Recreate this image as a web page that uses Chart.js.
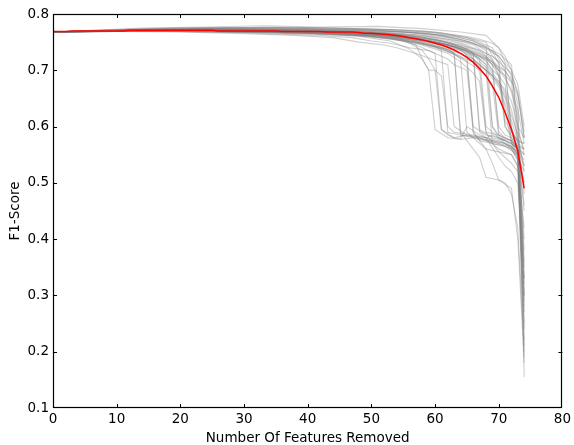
<!DOCTYPE html>
<html lang="en">
<head>
  <meta charset="UTF-8" />
  <title>F1-Score vs Features Removed</title>
  <script src="https://cdn.jsdelivr.net/npm/chart.js"></script>
  <style>
    body { margin: 0; background: #fff; }
    canvas { display: block; }
  </style>
</head>
<body>
  <canvas id="chart" width="574" height="445"></canvas>

  <script>
    // x ticks / y ticks
    const xTicks = [0, 10, 20, 30, 40, 50, 60, 70, 80];
    const yTicks = [0.1, 0.2, 0.3, 0.4, 0.5, 0.6, 0.7, 0.8];

    // mean F1 (red line), one value per number of features removed 0..74
    const featuresRemoved = [];
    for (let i = 0; i <= 74; i++) featuresRemoved.push(i);
    const meanF1 = [
      .769, .769, .769, .770, .770, .770, .770, .770, .770, .770,
      .770, .770, .771, .771, .771, .771, .771, .771, .771, .771,
      .771, .771, .771, .771, .771, .771, .770, .770, .770, .770,
      .770, .770, .770, .770, .770, .770, .769, .769, .769, .769,
      .769, .769, .769, .768, .768, .768, .768, .768, .767, .766,
      .766, .765, .764, .763, .762, .760, .758, .756, .754, .751,
      .748, .745, .741, .736, .730, .723, .714, .703, .690, .672,
      .652, .625, .595, .556, .490
    ];

    // individual runs (grey lines), [features removed, F1]
    const runA = [[0,.768],[6,.771],[14,.775],[24,.777],[33,.779],[42,.777],[51,.778],[58,.774],[64,.768],[68,.762],[70,.74],[71,.715],[72,.70],[73,.675],[74,.60]];
    const runB = [[0,.768],[8,.770],[17,.773],[27,.775],[36,.776],[46,.774],[54,.772],[60,.768],[65,.758],[68,.75],[69,.725],[71,.705],[72,.695],[73,.66],[74,.58]];
    const runC = [[0,.768],[7,.769],[16,.772],[26,.773],[37,.772],[47,.771],[55,.768],[61,.762],[65,.752],[67,.745],[69,.735],[70,.71],[72,.685],[73,.64],[74,.33]];
    const runD = [[0,.768],[9,.771],[19,.774],[29,.772],[39,.774],[49,.772],[56,.767],[62,.758],[66,.745],[68,.73],[70,.705],[71,.69],[72,.66],[73,.62],[74,.29]];
    const runE = [[0,.768],[5,.770],[15,.771],[25,.774],[35,.773],[45,.771],[53,.769],[59,.765],[63,.757],[66,.748],[68,.735],[69,.72],[70,.69],[72,.57],[73,.56],[74,.55]];
    const runF = [[0,.768],[10,.770],[20,.771],[31,.769],[42,.768],[50,.764],[56,.756],[60,.748],[63,.736],[65,.724],[67,.71],[69,.69],[70,.675],[71,.65],[72,.61],[73,.575],[74,.53]];
    const runG = [[0,.768],[12,.771],[22,.772],[32,.770],[43,.766],[51,.761],[56,.752],[60,.742],[63,.728],[66,.715],[68,.70],[70,.67],[71,.64],[72,.60],[73,.56],[74,.50]];
    const runH = [[0,.768],[8,.769],[18,.770],[28,.768],[38,.766],[48,.762],[54,.756],[58,.748],[61,.74],[64,.73],[66,.72],[67,.70],[68,.59],[70,.585],[72,.575],[73,.56],[74,.46]];
    const runI = [[0,.768],[11,.770],[21,.772],[33,.771],[44,.769],[52,.766],[57,.760],[61,.752],[64,.742],[66,.73],[68,.718],[69,.70],[70,.60],[71,.585],[72,.58],[73,.565],[74,.56]];
    const runJ = [[0,.768],[9,.770],[19,.769],[30,.767],[41,.764],[49,.760],[55,.753],[59,.745],[62,.735],[64,.725],[65,.715],[66,.60],[68,.585],[70,.58],[72,.575],[73,.56],[74,.35]];
    const runK = [[0,.768],[10,.770],[20,.770],[30,.768],[40,.766],[47,.762],[53,.752],[56,.738],[58,.72],[59,.70],[60,.595],[62,.58],[64,.577],[66,.58],[69,.575],[71,.57],[73,.555],[74,.25]];
    const runL = [[0,.768],[13,.771],[23,.773],[34,.771],[44,.768],[51,.763],[56,.754],[60,.742],[61,.735],[62,.59],[64,.585],[67,.58],[70,.57],[72,.565],[73,.55],[74,.22]];
    const runM = [[0,.768],[7,.770],[17,.772],[27,.771],[37,.770],[46,.767],[53,.761],[58,.75],[62,.738],[63,.73],[64,.585],[66,.58],[68,.56],[70,.555],[72,.55],[73,.53],[74,.19]];
    const runN = [[0,.768],[10,.771],[20,.773],[30,.774],[40,.772],[50,.768],[56,.762],[60,.755],[63,.745],[65,.738],[66,.73],[67,.595],[69,.58],[71,.575],[72,.57],[73,.555],[74,.40]];
    const runO = [[0,.768],[8,.769],[18,.771],[28,.770],[38,.768],[47,.765],[54,.76],[59,.752],[63,.742],[66,.73],[68,.72],[69,.71],[70,.59],[71,.58],[72,.575],[73,.56],[74,.155]];
    const runP = [[0,.768],[12,.770],[24,.772],[36,.772],[46,.769],[53,.765],[58,.758],[62,.75],[65,.74],[67,.73],[69,.715],[70,.705],[71,.70],[72,.595],[73,.57],[74,.30]];
    const runQ = [[0,.768],[9,.770],[21,.771],[32,.770],[42,.767],[50,.763],[55,.757],[59,.75],[62,.742],[64,.735],[65,.728],[66,.59],[67,.575],[68,.56],[69,.535],[70,.505],[71,.50],[72,.48],[73,.42],[74,.20]];
    const runR = [[0,.768],[14,.771],[26,.771],[38,.769],[48,.764],[54,.757],[58,.748],[61,.74],[63,.73],[64,.59],[65,.575],[66,.56],[67,.545],[68,.51],[70,.505],[72,.49],[73,.40],[74,.18]];
    const runS = [[0,.768],[11,.770],[22,.770],[33,.768],[43,.765],[50,.76],[55,.752],[57,.745],[58,.74],[59,.735],[60,.73],[61,.595],[63,.58],[65,.585],[67,.58],[69,.57],[71,.565],[72,.56],[73,.545],[74,.52]];
    const runT = [[0,.768],[6,.769],[16,.771],[26,.772],[36,.771],[45,.768],[52,.764],[57,.757],[61,.748],[64,.738],[66,.728],[67,.72],[68,.60],[69,.59],[70,.58],[72,.57],[73,.56],[74,.54]];
    const runU = [[0,.768],[10,.770],[20,.771],[31,.771],[41,.769],[50,.766],[56,.76],[60,.754],[64,.745],[67,.735],[69,.725],[70,.715],[71,.60],[72,.585],[73,.565],[74,.55]];
    const runV = [[0,.768],[12,.771],[22,.773],[32,.772],[42,.771],[51,.768],[57,.763],[61,.757],[65,.75],[68,.74],[70,.73],[71,.72],[72,.71],[73,.59],[74,.56]];
    const runW = [[0,.768],[10,.769],[20,.768],[30,.765],[38,.762],[44,.758],[48,.75],[52,.745],[54,.74],[57,.73],[60,.718],[62,.71],[63,.60],[65,.585],[68,.58],[70,.575],[72,.565],[73,.55],[74,.28]];
    const runX = [[0,.768],[8,.769],[18,.769],[28,.767],[36,.764],[42,.762],[47,.758],[50,.752],[53,.748],[56,.74],[59,.735],[61,.725],[62,.72],[63,.71],[65,.70],[66,.59],[67,.575],[69,.57],[71,.565],[73,.55],[74,.50]];
    const runY = [[0,.768],[10,.770],[20,.771],[30,.769],[40,.767],[48,.763],[53,.757],[56,.748],[58,.735],[59,.72],[60,.70],[61,.595],[62,.585],[63,.58],[64,.578],[65,.60],[67,.585],[69,.575],[71,.57],[73,.555],[74,.45]];
    const runZ = [[0,.768],[9,.770],[19,.772],[29,.770],[39,.768],[47,.765],[52,.76],[55,.754],[57,.745],[58,.72],[59,.70],[60,.70],[61,.69],[62,.60],[63,.59],[66,.585],[68,.58],[70,.545],[71,.53],[72,.52],[73,.50],[74,.33]];
    const runAA = [[0,.768],[7,.771],[15,.774],[23,.776],[31,.775],[40,.776],[48,.774],[55,.771],[61,.766],[65,.758],[67,.75],[69,.74],[70,.72],[71,.70],[72,.68],[73,.655],[74,.58]];
    const runAB = [[0,.768],[11,.770],[21,.769],[31,.768],[41,.766],[49,.762],[54,.755],[58,.746],[61,.738],[63,.728],[65,.715],[67,.70],[68,.69],[69,.675],[70,.585],[71,.575],[72,.57],[73,.56],[74,.38]];
    const runAC = [[0,.768],[13,.770],[25,.771],[35,.770],[45,.768],[52,.763],[57,.756],[61,.748],[64,.74],[66,.732],[68,.72],[70,.70],[71,.685],[72,.665],[73,.63],[74,.57]];
    const runAD = [[0,.768],[6,.770],[14,.772],[24,.773],[34,.774],[44,.772],[52,.77],[58,.766],[63,.76],[66,.752],[68,.742],[69,.60],[70,.585],[72,.575],[73,.56],[74,.21]];
    const runAE = [[0,.768],[10,.769],[22,.770],[34,.769],[44,.766],[51,.762],[56,.757],[60,.75],[63,.742],[65,.735],[66,.72],[67,.71],[68,.70],[69,.57],[70,.555],[71,.545],[72,.535],[73,.52],[74,.27]];
    const runAF = [[0,.768],[5,.770],[12,.773],[20,.775],[28,.776],[37,.775],[46,.773],[53,.771],[59,.767],[63,.761],[66,.752],[68,.742],[70,.725],[71,.71],[72,.69],[73,.66],[74,.59]];
    const runAG = [[0,.768],[9,.771],[18,.772],[27,.774],[36,.772],[45,.770],[53,.767],[58,.762],[62,.755],[65,.745],[67,.735],[68,.725],[69,.71],[70,.69],[71,.60],[72,.58],[73,.56],[74,.53]];
    const runAH = [[0,.768],[7,.770],[17,.771],[27,.771],[37,.769],[47,.767],[54,.762],[59,.754],[62,.746],[64,.738],[66,.728],[67,.715],[68,.705],[69,.69],[70,.68],[71,.665],[72,.645],[73,.60],[74,.55]];
    const runAI = [[0,.768],[11,.771],[20,.772],[29,.773],[38,.771],[47,.769],[54,.765],[59,.759],[62,.753],[64,.747],[66,.738],[68,.725],[69,.715],[70,.70],[71,.69],[72,.68],[73,.57],[74,.56]];
    const runAJ = [[0,.768],[8,.770],[16,.772],[25,.772],[34,.771],[43,.768],[50,.765],[56,.758],[60,.75],[63,.742],[65,.735],[67,.725],[68,.715],[69,.70],[70,.69],[71,.675],[72,.57],[73,.55],[74,.32]];
    const runAK = [[0,.768],[10,.769],[21,.770],[31,.770],[41,.768],[49,.765],[55,.759],[59,.752],[62,.745],[64,.737],[65,.73],[66,.725],[67,.59],[68,.58],[69,.585],[71,.575],[72,.565],[73,.545],[74,.24]];
    const runAL = [[0,.768],[6,.769],[15,.770],[25,.769],[35,.767],[45,.765],[52,.76],[57,.753],[60,.745],[62,.737],[63,.73],[64,.72],[65,.59],[66,.58],[68,.575],[70,.57],[72,.56],[73,.54],[74,.36]];
    const runAM = [[0,.768],[12,.771],[23,.774],[33,.775],[43,.773],[51,.771],[57,.767],[61,.762],[64,.755],[66,.748],[68,.738],[70,.725],[71,.71],[72,.59],[73,.575],[74,.57]];
    const runAN = [[0,.768],[9,.770],[19,.770],[29,.769],[39,.768],[48,.765],[54,.76],[58,.754],[61,.748],[63,.742],[65,.733],[67,.72],[68,.71],[69,.695],[70,.68],[71,.66],[72,.63],[73,.58],[74,.48]];
    const runAO = [[0,.768],[8,.771],[17,.774],[26,.775],[35,.777],[44,.775],[52,.773],[58,.77],[62,.765],[65,.76],[67,.755],[69,.748],[70,.74],[71,.725],[72,.70],[73,.60],[74,.58]];
    const runAP = [[0,.768],[10,.769],[20,.769],[30,.768],[40,.766],[48,.762],[53,.756],[57,.748],[60,.738],[62,.73],[64,.715],[65,.705],[66,.695],[67,.68],[68,.59],[69,.57],[70,.56],[71,.555],[72,.55],[73,.53],[74,.42]];
    const runAQ = [[0,.768],[11,.770],[22,.771],[32,.770],[42,.768],[50,.765],[56,.76],[60,.753],[63,.745],[65,.738],[67,.728],[69,.715],[70,.70],[71,.61],[72,.59],[73,.575],[74,.57]];
    const runAR = [[0,.768],[7,.769],[17,.771],[27,.772],[37,.771],[46,.769],[53,.765],[58,.759],[61,.753],[63,.746],[65,.738],[66,.73],[67,.72],[68,.71],[69,.60],[70,.58],[71,.57],[72,.56],[73,.54],[74,.30]];
    const runAS = [[0,.768],[13,.770],[24,.770],[35,.769],[45,.767],[52,.763],[57,.757],[60,.75],[62,.744],[64,.735],[65,.728],[66,.72],[67,.71],[68,.70],[69,.69],[70,.675],[71,.655],[72,.62],[73,.585],[74,.52]];

    const runs = [runA, runB, runC, runD, runE, runF, runG, runH, runI, runJ, runK, runL, runM,
      runN, runO, runP, runQ, runR, runS, runT, runU, runV, runW, runX, runY, runZ,
      runAA, runAB, runAC, runAD, runAE, runAF, runAG, runAH, runAI, runAJ, runAK,
      runAL, runAM, runAN, runAO, runAP, runAQ, runAR, runAS];

    const font = { family: 'DejaVu Sans', size: 13.5 };

    // matplotlib-style frame with inward ticks on all four sides
    const frameTicks = {
      id: 'frameTicks',
      afterDraw(chart) {
        const { ctx, chartArea: a, scales: { x, y } } = chart;
        ctx.save();
        ctx.strokeStyle = '#000';
        ctx.lineWidth = 1;
        ctx.beginPath();
        xTicks.slice(1, -1).forEach(v => {
          const px = Math.round(x.getPixelForValue(v)) + 0.5;
          ctx.moveTo(px, a.bottom); ctx.lineTo(px, a.bottom - 4);
          ctx.moveTo(px, a.top); ctx.lineTo(px, a.top + 4);
        });
        yTicks.slice(1, -1).forEach(v => {
          const py = Math.round(y.getPixelForValue(v)) + 0.5;
          ctx.moveTo(a.left, py); ctx.lineTo(a.left + 4, py);
          ctx.moveTo(a.right, py); ctx.lineTo(a.right - 4, py);
        });
        ctx.stroke();
        ctx.lineWidth = 1.2;
        ctx.strokeRect(Math.round(a.left) + 0.5, Math.round(a.top) + 0.5,
          Math.round(a.width) - 1, Math.round(a.height) - 1);
        ctx.restore();
      }
    };

    const datasets = runs.map(r => ({
      data: r.map(([x, y]) => ({ x, y })),
      borderColor: 'rgba(128,128,128,0.38)',
      borderWidth: 1.1,
      pointRadius: 0,
      tension: 0,
      order: 1
    }));
    datasets.push({
      data: featuresRemoved.map((x, i) => ({ x, y: meanF1[i] })),
      borderColor: '#ff0000',
      borderWidth: 1.5,
      pointRadius: 0,
      tension: 0,
      order: 0
    });

    new Chart(document.getElementById('chart'), {
      type: 'line',
      data: { datasets },
      options: {
        responsive: false,
        animation: false,
        events: [],
        layout: { padding: { left: 0, right: 11, top: 14, bottom: 0 } },
        plugins: { legend: { display: false }, tooltip: { enabled: false } },
        scales: {
          x: {
            type: 'linear',
            min: 0, max: 80,
            afterFit(s) { s.height = 37; },
            afterBuildTicks(s) { s.ticks = xTicks.map(v => ({ value: v })); },
            grid: { display: false, drawTicks: false },
            border: { display: false },
            ticks: { color: '#000', font, padding: 3, maxRotation: 0, callback: v => v },
            title: { display: true, text: 'Number Of Features Removed', color: '#000', font, padding: { top: 0, bottom: -2 } }
          },
          y: {
            min: 0.1, max: 0.8,
            afterFit(s) { s.width = 53; },
            afterBuildTicks(s) { s.ticks = yTicks.map(v => ({ value: v })); },
            grid: { display: false, drawTicks: false },
            border: { display: false },
            ticks: { color: '#000', font, padding: 4, callback: v => v.toFixed(1) },
            title: { display: true, text: 'F1-Score', color: '#000', font, padding: { top: 7, bottom: 0 } }
          }
        }
      },
      plugins: [frameTicks]
    });
  </script>
</body>
</html>
